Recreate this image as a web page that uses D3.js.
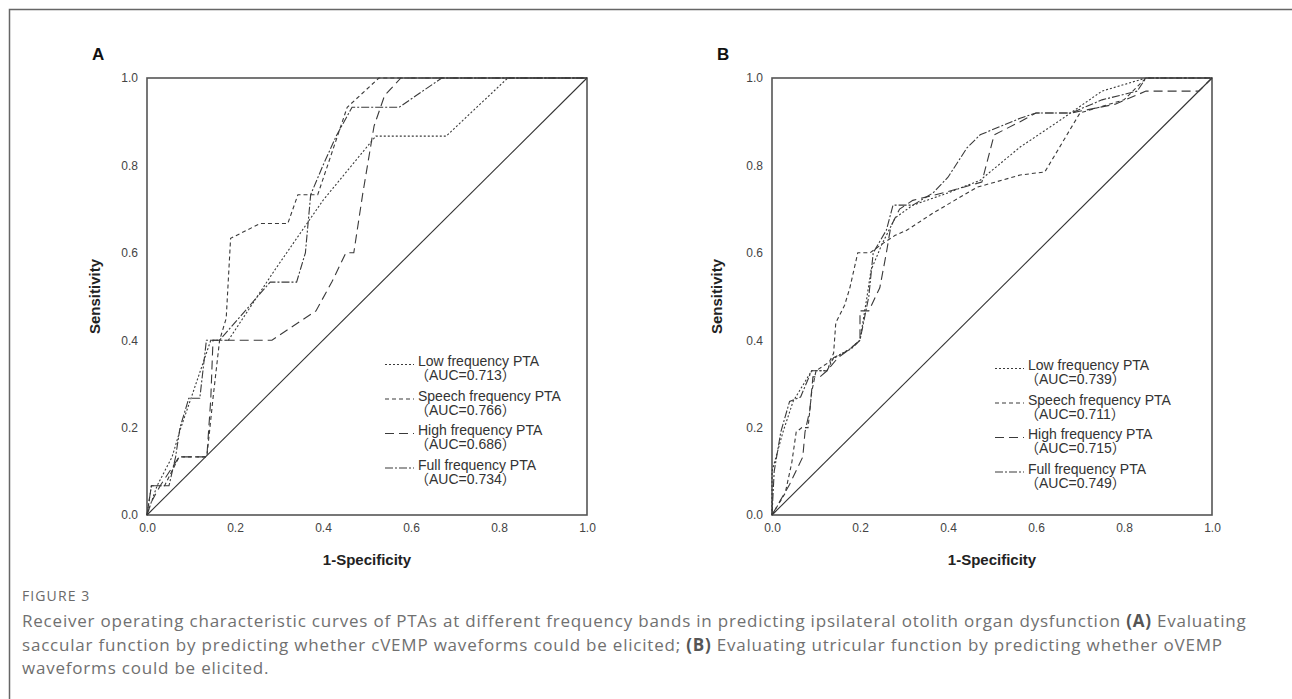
<!DOCTYPE html>
<html>
<head>
<meta charset="utf-8">
<script src="https://cdn.jsdelivr.net/npm/d3@7"></script>
<style>
  body { margin: 0; background: #fff; }
  svg { display: block; }
</style>
</head>
<body>
<svg width="1292" height="699"></svg>
<script>

// ---- data ----
var ticks = [0, 0.2, 0.4, 0.6, 0.8, 1.0];
var names = ["Low frequency PTA", "Speech frequency PTA", "High frequency PTA", "Full frequency PTA"];
var aucA = ["0.713", "0.766", "0.686", "0.734"];
var aucB = ["0.739", "0.711", "0.715", "0.749"];

// panel A  [1-specificity, sensitivity]
var lowA = [[0,0],[0.01,0.03],[0.023,0.067],[0.057,0.133],[0.077,0.2],[0.1,0.267],[0.145,0.4],[0.185,0.4],
  [0.29,0.56],[0.4,0.72],[0.52,0.867],[0.68,0.867],[0.82,1],[1,1]];
var speechA = [[0,0],[0.01,0.067],[0.04,0.067],[0.073,0.133],[0.136,0.133],[0.15,0.267],[0.165,0.4],[0.18,0.45],
  [0.19,0.633],[0.257,0.667],[0.32,0.667],[0.343,0.733],[0.388,0.733],[0.455,0.933],[0.527,1],[1,1]];
var highA = [[0,0],[0.01,0.03],[0.03,0.067],[0.073,0.133],[0.136,0.133],[0.145,0.267],[0.15,0.4],[0.284,0.4],
  [0.384,0.467],[0.42,0.533],[0.452,0.6],[0.47,0.6],[0.49,0.733],[0.516,0.89],[0.54,0.96],[0.577,1],[1,1]];
var fullA = [[0,0],[0.01,0.067],[0.05,0.067],[0.065,0.133],[0.075,0.2],[0.095,0.267],[0.12,0.267],[0.135,0.4],
  [0.165,0.4],[0.28,0.533],[0.34,0.533],[0.36,0.6],[0.372,0.733],[0.4,0.8],[0.43,0.867],[0.466,0.933],
  [0.573,0.933],[0.67,1],[1,1]];

// panel B
var lowB = [[0,0],[0,0.1],[0.025,0.19],[0.048,0.26],[0.09,0.33],[0.125,0.33],[0.135,0.355],[0.177,0.38],[0.2,0.4],
  [0.216,0.5],[0.225,0.56],[0.25,0.62],[0.28,0.68],[0.32,0.709],[0.4,0.737],[0.473,0.766],[0.564,0.842],
  [0.65,0.9],[0.75,0.97],[0.85,1],[1,1]];
var speechB = [[0,0],[0.03,0.05],[0.045,0.12],[0.055,0.19],[0.068,0.2],[0.082,0.2],[0.09,0.28],[0.1,0.33],
  [0.13,0.35],[0.14,0.37],[0.145,0.44],[0.165,0.48],[0.177,0.52],[0.195,0.6],[0.223,0.6],[0.25,0.62],[0.28,0.64],
  [0.307,0.652],[0.366,0.691],[0.466,0.75],[0.564,0.778],[0.62,0.785],[0.7,0.92],[0.8,0.95],[0.85,1],[1,1]];
var highB = [[0,0],[0.04,0.07],[0.07,0.133],[0.075,0.19],[0.086,0.24],[0.093,0.316],[0.109,0.316],[0.125,0.33],
  [0.15,0.36],[0.177,0.38],[0.2,0.4],[0.2,0.467],[0.22,0.467],[0.245,0.52],[0.26,0.6],[0.27,0.66],[0.29,0.7],
  [0.32,0.72],[0.4,0.74],[0.477,0.762],[0.5,0.851],[0.505,0.87],[0.564,0.9],[0.6,0.92],[0.68,0.92],[0.78,0.94],
  [0.85,0.97],[0.97,0.97],[1,1]];
var fullB = [[0,0],[0.005,0.1],[0.02,0.19],[0.04,0.26],[0.065,0.27],[0.09,0.33],[0.125,0.33],[0.14,0.36],[0.18,0.38],
  [0.2,0.4],[0.22,0.5],[0.23,0.6],[0.26,0.652],[0.275,0.709],[0.32,0.709],[0.366,0.737],[0.4,0.773],[0.443,0.84],
  [0.473,0.87],[0.564,0.908],[0.6,0.92],[0.68,0.92],[0.75,0.95],[0.83,0.97],[0.85,1],[1,1]];

// ---- styles ----
var dashes = ["2,2", "4,3", "9,5", "8,2,2,2"];
var ink = "#3a3a3a";
var axisFont = "'Liberation Sans', Arial, sans-serif";

var svg = d3.select("svg");

// outer figure frame (top + left)
svg.append("path")
  .attr("d", "M9.5,699V9.5H1292")
  .attr("fill", "none")
  .attr("stroke", "#666")
  .attr("stroke-width", 1.5);

function panel(opt) {
  var w = 440, h = 437;
  var g = svg.append("g").attr("transform", "translate(" + opt.left + "," + opt.top + ")");

  var x = d3.scaleLinear().domain([0, 1]).range([0, w]);
  var y = d3.scaleLinear().domain([0, 1]).range([h, 0]);

  var yAxis = g.append("g")
    .call(d3.axisLeft(y).tickValues(ticks).tickFormat(d3.format(".1f")).tickSize(0).tickPadding(9));
  var xAxis = g.append("g")
    .attr("transform", "translate(0," + h + ")")
    .call(d3.axisBottom(x).tickValues(ticks).tickFormat(d3.format(".1f")).tickSize(0).tickPadding(8));
  [xAxis, yAxis].forEach(function (a) {
    a.select(".domain").remove();
    a.selectAll("text")
      .style("font-family", axisFont)
      .style("font-size", "12px")
      .style("fill", "#444");
  });

  // plot frame
  g.append("rect")
    .attr("width", w).attr("height", h)
    .attr("fill", "none")
    .attr("stroke", "#555")
    .attr("stroke-width", 1.6);

  var line = d3.line()
    .x(function (d) { return x(d[0]); })
    .y(function (d) { return y(d[1]); });

  // reference line
  g.append("path")
    .datum([[0, 0], [1, 1]])
    .attr("d", line)
    .attr("fill", "none")
    .attr("stroke", "#333")
    .attr("stroke-width", 1.1);

  g.append("g").selectAll("path")
    .data(opt.series)
    .enter().append("path")
    .attr("d", line)
    .attr("fill", "none")
    .attr("stroke", ink)
    .attr("stroke-width", 1.1)
    .attr("stroke-dasharray", function (d, i) { return dashes[i]; });

  // panel letter
  svg.append("text")
    .attr("x", opt.left + opt.letterDx).attr("y", 60)
    .style("font-family", axisFont)
    .style("font-weight", "bold")
    .style("font-size", "17px")
    .style("fill", "#111")
    .text(opt.letter);

  // axis titles
  g.append("text")
    .attr("transform", "translate(" + opt.yTitleDx + "," + (h / 2) + ") rotate(-90)")
    .attr("text-anchor", "middle")
    .style("font-family", axisFont)
    .style("font-weight", "bold")
    .style("font-size", "15px")
    .style("fill", "#222")
    .text("Sensitivity");
  g.append("text")
    .attr("x", w / 2).attr("y", h + 50)
    .attr("text-anchor", "middle")
    .style("font-family", axisFont)
    .style("font-weight", "bold")
    .style("font-size", "15px")
    .style("fill", "#222")
    .text("1-Specificity");

  // legend
  var leg = g.append("g").selectAll("g")
    .data(names)
    .enter().append("g")
    .attr("transform", function (d, i) { return "translate(0," + (opt.legTop + i * 34.5) + ")"; });
  leg.append("line")
    .attr("x1", opt.legX - 33).attr("x2", opt.legX - 4)
    .attr("y1", -1.5).attr("y2", -1.5)
    .attr("stroke", ink)
    .attr("stroke-width", 1.1)
    .attr("stroke-dasharray", function (d, i) { return dashes[i]; });
  leg.append("text")
    .attr("x", opt.legX)
    .style("font-family", axisFont)
    .style("font-size", "14px")
    .style("fill", "#333")
    .text(function (d) { return d; });
  leg.append("text")
    .attr("x", opt.legX - 3).attr("y", 14)
    .style("font-family", axisFont + ", 'Noto Sans CJK SC'")
    .style("font-size", "14px")
    .style("fill", "#333")
    .text(function (d, i) { return "（AUC=" + opt.auc[i] + "）"; });
}

panel({ left: 147, top: 78, letter: "A", letterDx: -55, yTitleDx: -47,
  series: [lowA, speechA, highA, fullA], auc: aucA, legX: 271, legTop: 288 });
panel({ left: 772, top: 78, letter: "B", letterDx: -55, yTitleDx: -50,
  series: [lowB, speechB, highB, fullB], auc: aucB, legX: 256, legTop: 292 });

// caption
var capFont = "'Open Sans', 'Noto Sans', sans-serif";
var capX = 22;
var fig = svg.append("text")
  .attr("x", capX).attr("y", 601)
  .style("font-family", capFont)
  .style("font-size", "14px")
  .style("fill", "#6a6a6a")
  .text("FIGURE 3");

var capLines = [
  [["Receiver operating characteristic curves of PTAs at different frequency bands in predicting ipsilateral otolith organ dysfunction ", false], ["(A)", true], [" Evaluating", false]],
  [["saccular function by predicting whether cVEMP waveforms could be elicited; ", false], ["(B)", true], [" Evaluating utricular function by predicting whether oVEMP", false]],
  [["waveforms could be elicited.", false]]
];
var cap = svg.append("g").selectAll("text")
  .data(capLines)
  .enter().append("text")
  .attr("x", capX)
  .attr("y", function (d, i) { return 627 + i * 23.5; })
  .style("font-family", capFont)
  .style("font-size", "17px")
  .style("fill", "#707070")
  .each(function (parts) {
    d3.select(this).selectAll("tspan")
      .data(parts)
      .enter().append("tspan")
      .style("font-weight", function (p) { return p[1] ? "bold" : "normal"; })
      .style("fill", function (p) { return p[1] ? "#555" : null; })
      .text(function (p) { return p[0]; });
  });

// the printed caption runs wider than Open Sans; spread it so line 2 ends near x=1222
var line2 = cap.nodes()[1];
var nChars = capLines[1].map(function (p) { return p[0]; }).join("").length;
var ls = Math.max(0, (1222 - capX - line2.getComputedTextLength()) / (nChars - 1));
cap.style("letter-spacing", ls + "px");
fig.style("letter-spacing", (ls + 0.3) + "px");

</script>
</body>
</html>
